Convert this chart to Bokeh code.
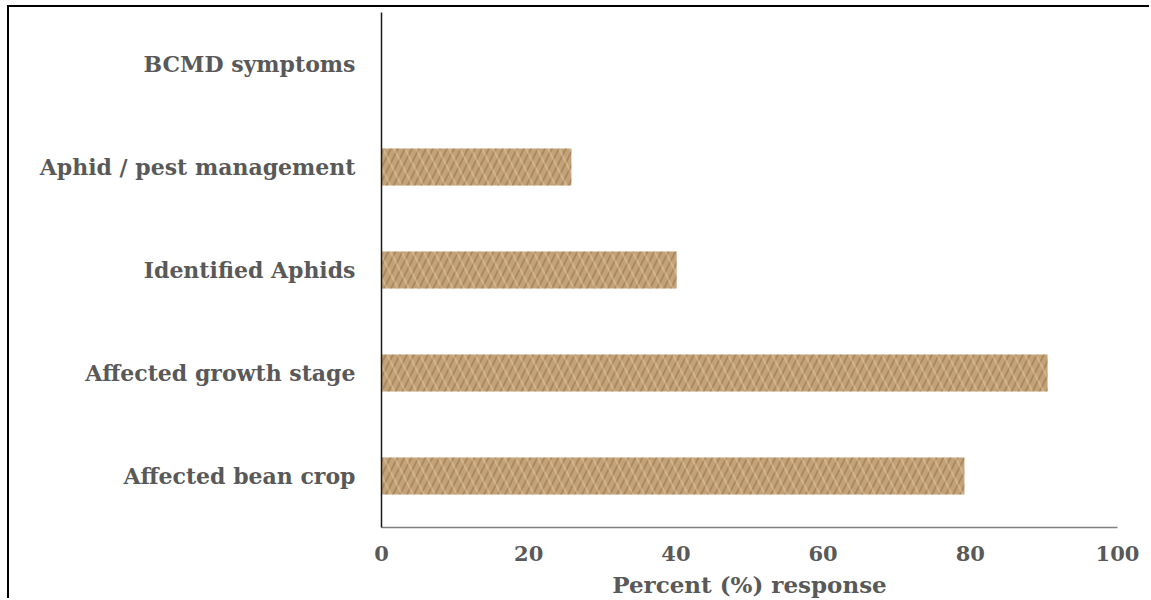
from bokeh.plotting import figure
from bokeh.models import FactorRange, Range1d, FixedTicker
from bokeh.embed import file_html
from bokeh.resources import INLINE

categories = ["Affected bean crop", "Affected growth stage", "Identified Aphids",
              "Aphid / pest management", "BCMD symptoms"]
percent = [79.2, 90.5, 40.1, 25.8, 0.0]
x_ticks = [0, 20, 40, 60, 80, 100]

FONT = "DejaVu Serif"
GREY = "#595959"

p = figure(width=1142, height=593, output_backend="svg", toolbar_location=None,
           y_range=FactorRange(factors=categories, range_padding=0),
           x_range=Range1d(0, 100),
           min_border_left=372, min_border_right=34, min_border_top=5, min_border_bottom=73,
           styles={"margin-left": "7px", "margin-top": "5px",
                   "border-left": "2px solid black", "border-top": "2px solid black"})
p.outline_line_color = None
p.grid.grid_line_color = None

p.hbar(y=categories, right=percent, left=0, height=0.36,
       fill_color="#c4a277", line_color=None,
       hatch_pattern="/", hatch_color="#7a5a36", hatch_alpha=0.35,
       hatch_scale=14, hatch_weight=2)
p.hbar(y=categories, right=percent, left=0, height=0.36,
       fill_alpha=0, line_color=None,
       hatch_pattern="\\", hatch_color="#ecd8b8", hatch_alpha=0.35,
       hatch_scale=22, hatch_weight=2)

xa = p.xaxis[0]
xa.ticker = FixedTicker(ticks=x_ticks)
xa.axis_line_color = "#808080"
xa.axis_line_width = 1.5
xa.major_tick_line_color = None
xa.minor_tick_line_color = None
xa.major_tick_out = 0
xa.major_label_standoff = 18
xa.major_label_text_font = FONT
xa.major_label_text_font_style = "bold"
xa.major_label_text_font_size = "21px"
xa.major_label_text_color = GREY
xa.axis_label = "Percent (%) response"
xa.axis_label_text_font = FONT
xa.axis_label_text_font_style = "bold"
xa.axis_label_text_font_size = "23px"
xa.axis_label_text_color = GREY
xa.axis_label_standoff = 7

ya = p.yaxis[0]
ya.axis_line_color = "#1a1a1a"
ya.axis_line_width = 1.5
ya.major_tick_line_color = None
ya.minor_tick_line_color = None
ya.major_tick_out = 0
ya.major_label_standoff = 26
ya.major_label_text_font = FONT
ya.major_label_text_font_style = "bold"
ya.major_label_text_font_size = "22px"
ya.major_label_text_color = GREY

open("out.html", "w").write(file_html(p, INLINE))
